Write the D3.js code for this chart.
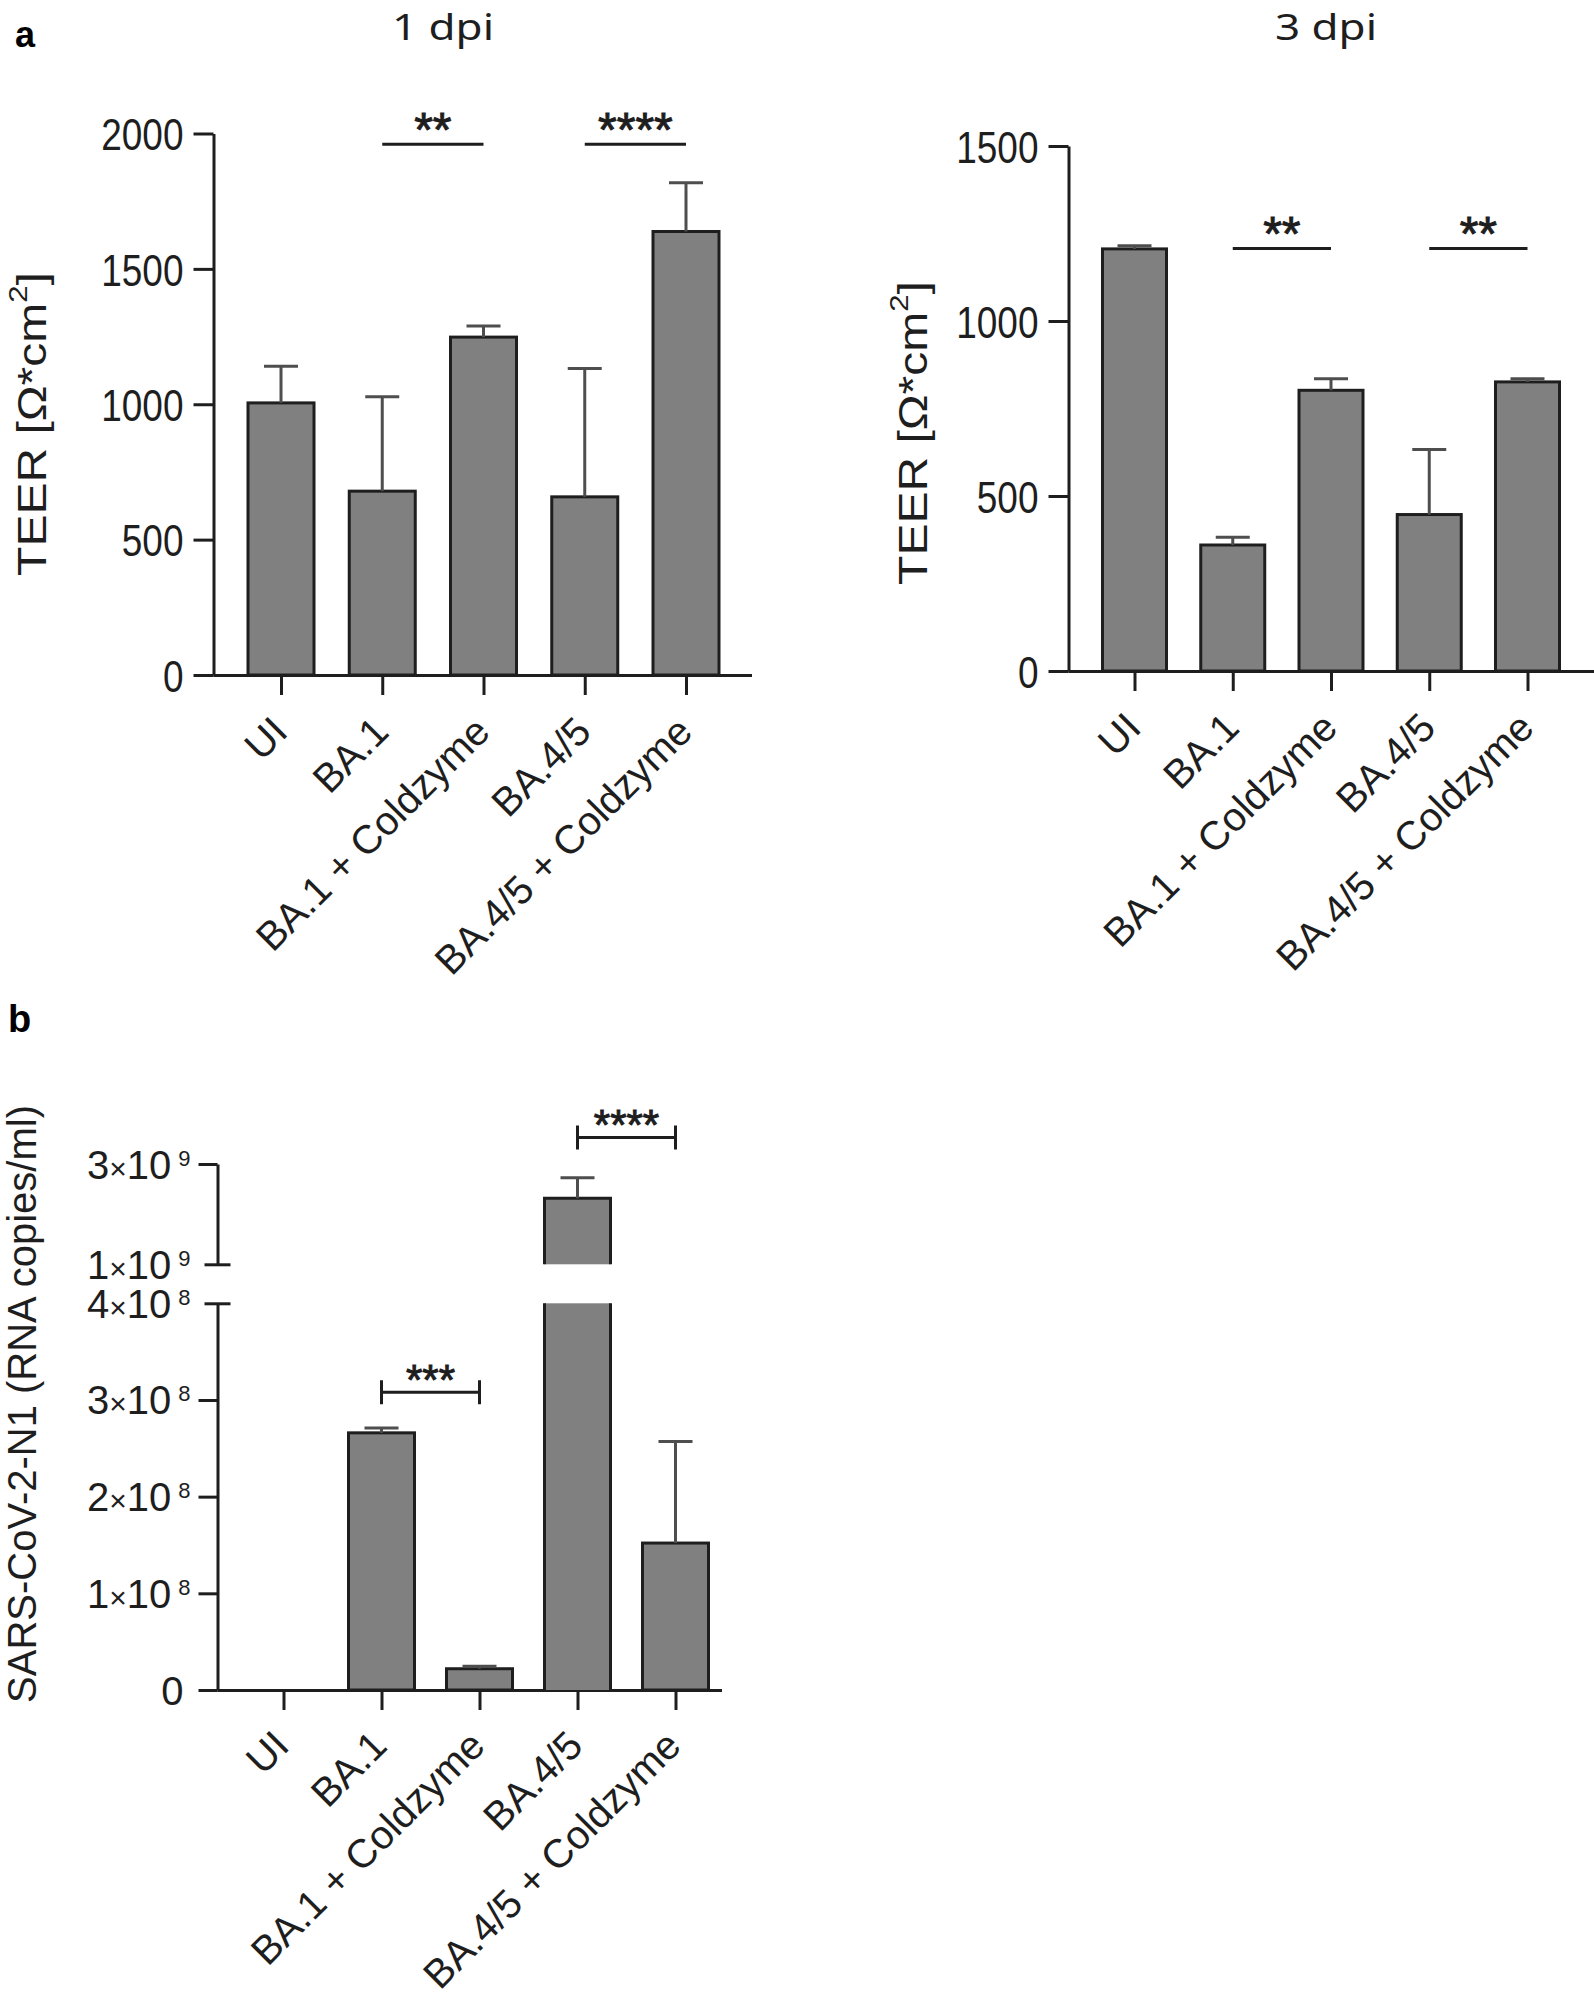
<!DOCTYPE html>
<html><head><meta charset="utf-8">
<script src="https://cdn.jsdelivr.net/npm/d3@7"></script>
<style>
html,body{margin:0;padding:0;background:#fff;}
svg{display:block;}
text{font-family:"Liberation Sans",Arial,sans-serif;}
</style></head><body>
<svg id="fig" width="1594" height="1996"></svg>
<script>
// ---------- data ----------
const categories = ["UI", "BA.1", "BA.1 + Coldzyme", "BA.4/5", "BA.4/5 + Coldzyme"];
const teer1dpi    = [1005, 679, 1248, 658, 1638];
const teer1dpiErr = [135, 349, 41, 474, 180];
const teer3dpi    = [1206, 360, 802, 447, 826];
const teer3dpiErr = [9, 22, 33, 186, 9];
const rnaCopies    = [0, 2.66e8, 2.2e7, 2.316e9, 1.52e8];
const rnaCopiesErr = [0, 0.05e8, 0.25e7, 0.411e9, 1.05e8];
const teer1Ticks = [0, 500, 1000, 1500, 2000];
const teer3Ticks = [0, 500, 1000, 1500];
const rnaLowTicks = [0, 1e8, 2e8, 3e8, 4e8];
const rnaHighTicks = [1e9, 3e9];
const rnaBreak = [4e8, 1e9];
const sig1dpi = [
  {from: "BA.1", to: "BA.1 + Coldzyme", label: "**", level: 1960},
  {from: "BA.4/5", to: "BA.4/5 + Coldzyme", label: "****", level: 1960}
];
const sig3dpi = [
  {from: "BA.1", to: "BA.1 + Coldzyme", label: "**", level: 1207},
  {from: "BA.4/5", to: "BA.4/5 + Coldzyme", label: "**", level: 1207}
];
const sigRna = [
  {from: "BA.1", to: "BA.1 + Coldzyme", label: "***", level: 3.08e8},
  {from: "BA.4/5", to: "BA.4/5 + Coldzyme", label: "****", level: 3.53e9}
];

// ---------- drawing ----------
const INK = "#1e1e1e", BAR = "#808080", ERR = "#4e4e4e";
const svg = d3.select("#fig");
svg.append("rect").attr("width", 1594).attr("height", 1996).attr("fill", "#fff");

function styleAxis(g, fs) {
  g.attr("font-size", null).attr("font-family", null);
  g.selectAll("path.domain").attr("stroke", INK).attr("stroke-width", 3);
  g.selectAll(".tick line").attr("stroke", INK).attr("stroke-width", 3);
  g.selectAll(".tick text").attr("fill", INK).style("font-size", (fs || 40) + "px");
}

function xAxis(g, x, yPix, labelShift) {
  const xa = g.append("g").attr("transform", `translate(0,${yPix})`)
    .call(d3.axisBottom(x).tickSize(20).tickSizeOuter(0));
  xa.select(".domain").remove();
  styleAxis(xa, 40);
  xa.selectAll(".tick text")
    .attr("x", 0).attr("y", 0).attr("dy", null)
    .attr("text-anchor", "end")
    .attr("transform", `translate(${labelShift[0]},${labelShift[1]}) rotate(-45)`);
  return xa;
}

function errorBars(g, x, yFn, cats, vals, errs, capHalf) {
  const eg = g.append("g").attr("stroke", ERR).attr("stroke-width", 3).attr("fill", "none");
  cats.forEach((c, i) => {
    if (errs[i] <= 0) return;
    const top = vals[i] + errs[i];
    const ys = yFn(vals[i]), ye = yFn(top);
    eg.append("line").attr("x1", x(c)).attr("x2", x(c)).attr("y1", ys).attr("y2", ye);
    eg.append("line").attr("x1", x(c) - capHalf).attr("x2", x(c) + capHalf).attr("y1", ye).attr("y2", ye);
  });
}

function starText(g, xPos, yCenter, label, fs) {
  g.append("text").attr("x", xPos).attr("y", yCenter + 0.58 * fs)
    .attr("text-anchor", "middle").attr("fill", INK)
    .attr("stroke", INK).attr("stroke-width", 1)
    .style("font-size", fs + "px").text(label);
}

function teerPanel(p) {
  const g = svg.append("g");
  const y = d3.scaleLinear().domain([0, p.yMax]).range([p.y0, p.yTop]);
  const x = d3.scalePoint().domain(categories).range(p.xRange);

  // x axis baseline
  g.append("line").attr("x1", p.axisX).attr("x2", p.xEnd)
    .attr("y1", y(0) + 0.5).attr("y2", y(0) + 0.5)
    .attr("stroke", INK).attr("stroke-width", 3);

  // y axis
  const ya = g.append("g").attr("transform", `translate(${p.axisX},0)`)
    .call(d3.axisLeft(y).tickValues(p.ticks).tickSize(20).tickSizeOuter(0)
      .tickPadding(10).tickFormat(d3.format("d")));
  styleAxis(ya, 37);
  ya.selectAll(".tick text").attr("transform", "scale(1,1.22)").attr("dy", "0.36em");

  xAxis(g, x, y(0), [8, 59]);

  // bars
  g.append("g").selectAll("rect").data(categories).join("rect")
    .attr("x", d => x(d) - p.barW / 2).attr("width", p.barW)
    .attr("y", (d, i) => y(p.values[i]))
    .attr("height", (d, i) => y(0) - y(p.values[i]))
    .attr("fill", BAR).attr("stroke", INK).attr("stroke-width", 3);

  errorBars(g, x, y, categories, p.values, p.errs, 17);

  // significance
  p.sig.forEach(s => {
    const yy = y(s.level);
    g.append("line").attr("x1", x(s.from)).attr("x2", x(s.to)).attr("y1", yy).attr("y2", yy)
      .attr("stroke", INK).attr("stroke-width", 3);
    starText(g, (x(s.from) + x(s.to)) / 2, yy - 26, s.label, 48);
  });

  // titles
  g.append("text").attr("x", p.titleX).attr("y", p.titleY)
    .attr("text-anchor", "middle").attr("fill", INK)
    .style("font-family", "'Noto Sans', 'Open Sans', sans-serif").style("font-size", "36px")
    .attr("textLength", 102).attr("lengthAdjust", "spacingAndGlyphs")
    .text(p.title);

  const yt = g.append("text")
    .attr("transform", `translate(${p.ytX},${p.ytY}) rotate(-90) scale(1.2,1)`)
    .attr("text-anchor", "middle").attr("fill", INK).style("font-size", "40px");
  yt.append("tspan").text("TEER [\u03A9*cm");
  yt.append("tspan").attr("dy", -19).style("font-size", "26px").text("2");
  yt.append("tspan").attr("dy", 19).text("]");
}

teerPanel({
  axisX: 213.5, y0: 675, yTop: 133.5, yMax: 2000, xRange: [281, 686], barW: 66, xEnd: 752,
  ticks: teer1Ticks, values: teer1dpi, errs: teer1dpiErr, sig: sig1dpi,
  title: "1 dpi", titleX: 443, titleY: 40, ytX: 46, ytY: 424
});
teerPanel({
  axisX: 1068.5, y0: 671, yTop: 146, yMax: 1500, xRange: [1134.5, 1527.5], barW: 64, xEnd: 1594,
  ticks: teer3Ticks, values: teer3dpi, errs: teer3dpiErr, sig: sig3dpi,
  title: "3 dpi", titleX: 1326, titleY: 40, ytX: 927, ytY: 433
});

// ---------- panel b (broken axis) ----------
(function () {
  const g = svg.append("g");
  const axisX = 217.5;
  const yLow = d3.scaleLinear().domain([0, rnaBreak[0]]).range([1690, 1303.3]);
  const yHigh = d3.scaleLinear().domain([rnaBreak[1], 3e9]).range([1264.3, 1164]);
  const yOf = v => (v <= rnaBreak[0] ? yLow(v) : yHigh(v));
  const x = d3.scalePoint().domain(categories).range([283.5, 675.5]);
  const barW = 66;

  g.append("line").attr("x1", axisX).attr("x2", 722)
    .attr("y1", yLow(0) + 0.5).attr("y2", yLow(0) + 0.5)
    .attr("stroke", INK).attr("stroke-width", 3);

  function sciLabel(sel) {
    sel.each(function (d) {
      const t = d3.select(this).text(null).attr("x", d === 0 ? -34 : -27).attr("dy", "0.35em");
      if (d === 0) { t.text("0"); return; }
      const e = Math.floor(Math.log10(d));
      const m = Math.round(d / Math.pow(10, e));
      t.append("tspan").text(m);
      t.append("tspan").style("font-size", "30px").text("\u00D7");
      t.append("tspan").text("10");
      t.append("tspan").attr("dx", 7).attr("dy", -13).style("font-size", "22px").text(e);
    });
  }

  [[yLow, rnaLowTicks, rnaBreak[0]], [yHigh, rnaHighTicks, rnaBreak[1]]].forEach(([sc, tv, br]) => {
    const ya = g.append("g").attr("transform", `translate(${axisX},0)`)
      .call(d3.axisLeft(sc).tickValues(tv).tickSize(19).tickSizeOuter(0));
    styleAxis(ya, 40);
    ya.selectAll(".tick text").call(sciLabel);
    ya.selectAll(".tick").filter(d => d === br).select("line").attr("x1", -13).attr("x2", 13);
  });

  xAxis(g, x, yLow(0), [7, 58]);

  // bars (split at the axis break)
  const bg = g.append("g");
  categories.forEach((c, i) => {
    const v = rnaCopies[i];
    if (v <= 0) return;
    const x0 = x(c) - barW / 2, x1 = x(c) + barW / 2;
    if (v <= rnaBreak[0]) {
      bg.append("rect").attr("x", x0).attr("width", barW).attr("y", yLow(v))
        .attr("height", yLow(0) - yLow(v)).attr("fill", BAR).attr("stroke", INK).attr("stroke-width", 3);
    } else {
      const lt = yLow(rnaBreak[0]), hb = yHigh(rnaBreak[1]), ht = yHigh(v);
      bg.append("rect").attr("x", x0).attr("width", barW).attr("y", lt).attr("height", yLow(0) - lt).attr("fill", BAR);
      bg.append("rect").attr("x", x0).attr("width", barW).attr("y", ht).attr("height", hb - ht).attr("fill", BAR);
      bg.append("path").attr("fill", "none").attr("stroke", INK).attr("stroke-width", 3)
        .attr("d", `M${x0},${yLow(0)}V${lt}M${x1},${yLow(0)}V${lt}M${x0},${hb}V${ht}H${x1}V${hb}`);
    }
  });

  errorBars(g, x, yOf, categories, rnaCopies, rnaCopiesErr, 17);

  sigRna.forEach(s => {
    const yy = yOf(s.level);
    const xa = x(s.from), xb = x(s.to);
    g.append("path").attr("fill", "none").attr("stroke", INK).attr("stroke-width", 3)
      .attr("d", `M${xa},${yy - 12}V${yy + 12}M${xa},${yy}H${xb}M${xb},${yy - 12}V${yy + 12}`);
    starText(g, (xa + xb) / 2, yy - 23, s.label, 42);
  });

  g.append("text")
    .attr("transform", `translate(36,1404) rotate(-90)`)
    .attr("text-anchor", "middle").attr("fill", INK).style("font-size", "40px")
    .text("SARS-CoV-2-N1 (RNA copies/ml)");
})();

// panel letters
svg.append("text").attr("x", 15).attr("y", 47).attr("fill", "#000")
  .style("font-size", "36px").style("font-weight", "bold").text("a");
svg.append("text").attr("x", 8).attr("y", 1032).attr("fill", "#000")
  .style("font-size", "38px").style("font-weight", "bold").text("b");
</script>
</body></html>
